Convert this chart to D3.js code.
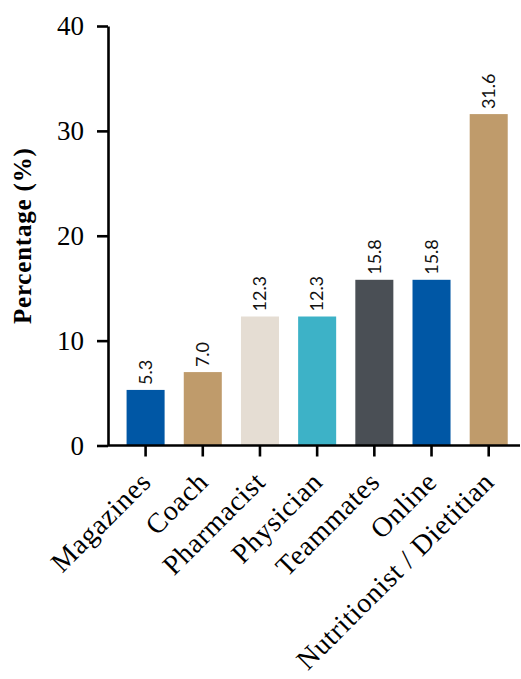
<!DOCTYPE html>
<html>
<head>
<meta charset="utf-8">
<script src="https://cdn.jsdelivr.net/npm/d3@7"></script>
<style>
  body { margin: 0; background: #fff; }
  svg { display: block; }
</style>
</head>
<body>
<div id="chart"></div>
<script>
// data
var categories = ["Magazines", "Coach", "Pharmacist", "Physician", "Teammates", "Online", "Nutritionist / Dietitian"];
var values = [5.3, 7.0, 12.3, 12.3, 15.8, 15.8, 31.6];
var barColors = ["#0057a5", "#bf9b6b", "#e5ddd3", "#3db2c7", "#4a4f55", "#0057a5", "#bf9b6b"];
var yTicks = [0, 10, 20, 30, 40];

var width = 521, height = 679;
var plot = { left: 108, right: 520, top: 26, bottom: 445.5 };

var svg = d3.select("#chart")
    .append("svg")
    .attr("width", width)
    .attr("height", height);

var x = d3.scaleBand()
    .domain(categories)
    .range([117, 517.3])
    .paddingInner(0.335)
    .paddingOuter(0.1675);

var y = d3.scaleLinear()
    .domain([0, 40])
    .range([plot.bottom, plot.top]);

var data = categories.map(function(c, i) {
    return { cat: c, value: values[i], color: barColors[i] };
});

// bars
svg.selectAll("rect.bar")
    .data(data)
    .enter()
    .append("rect")
    .attr("class", "bar")
    .attr("x", function(d) { return x(d.cat); })
    .attr("y", function(d) { return y(d.value); })
    .attr("width", x.bandwidth())
    .attr("height", function(d) { return y(0) - y(d.value); })
    .attr("fill", function(d) { return d.color; });

// value labels, vertical
svg.selectAll("text.val")
    .data(data)
    .enter()
    .append("text")
    .attr("class", "val")
    .attr("transform", function(d) {
        return "translate(" + (x(d.cat) + x.bandwidth() / 2) + "," + (y(d.value) - 5) + ") rotate(-90)";
    })
    .attr("dy", "0.35em")
    .style("font-family", "Lato, 'Noto Sans', sans-serif")
    .style("font-size", "18px")
    .style("fill", "#111")
    .text(function(d) { return d3.format(".1f")(d.value); });

// y axis
var yAxis = svg.append("g")
    .attr("transform", "translate(" + plot.left + ",0)")
    .call(d3.axisLeft(y).tickValues(yTicks).tickSize(11).tickSizeOuter(0).tickPadding(13));

yAxis.selectAll("text")
    .style("font-family", "'Liberation Serif', 'Times New Roman', serif")
    .style("font-size", "27px")
    .style("fill", "#000");

// x axis
var xAxis = svg.append("g")
    .attr("transform", "translate(0," + plot.bottom + ")")
    .call(d3.axisBottom(x).tickSize(11).tickSizeOuter(0));

xAxis.select(".domain")
    .attr("d", "M" + plot.left + ",0H" + plot.right);

xAxis.selectAll("text")
    .attr("y", null)
    .attr("dy", null)
    .attr("transform", "translate(7,38) rotate(-45)")
    .style("text-anchor", "end")
    .style("font-family", "'Liberation Serif', 'Times New Roman', serif")
    .style("font-size", "28px")
    .style("letter-spacing", "0.7px")
    .style("fill", "#000");

svg.selectAll(".domain, .tick line")
    .attr("stroke", "#000")
    .attr("stroke-width", 2.6);

// y axis title
svg.append("text")
    .attr("transform", "translate(31," + ((plot.top + plot.bottom) / 2) + ") rotate(-90)")
    .style("text-anchor", "middle")
    .style("font-family", "'Liberation Serif', 'Times New Roman', serif")
    .style("font-weight", "bold")
    .style("font-size", "25px")
    .style("letter-spacing", "0.8px")
    .text("Percentage (%)");
</script>
</body>
</html>
